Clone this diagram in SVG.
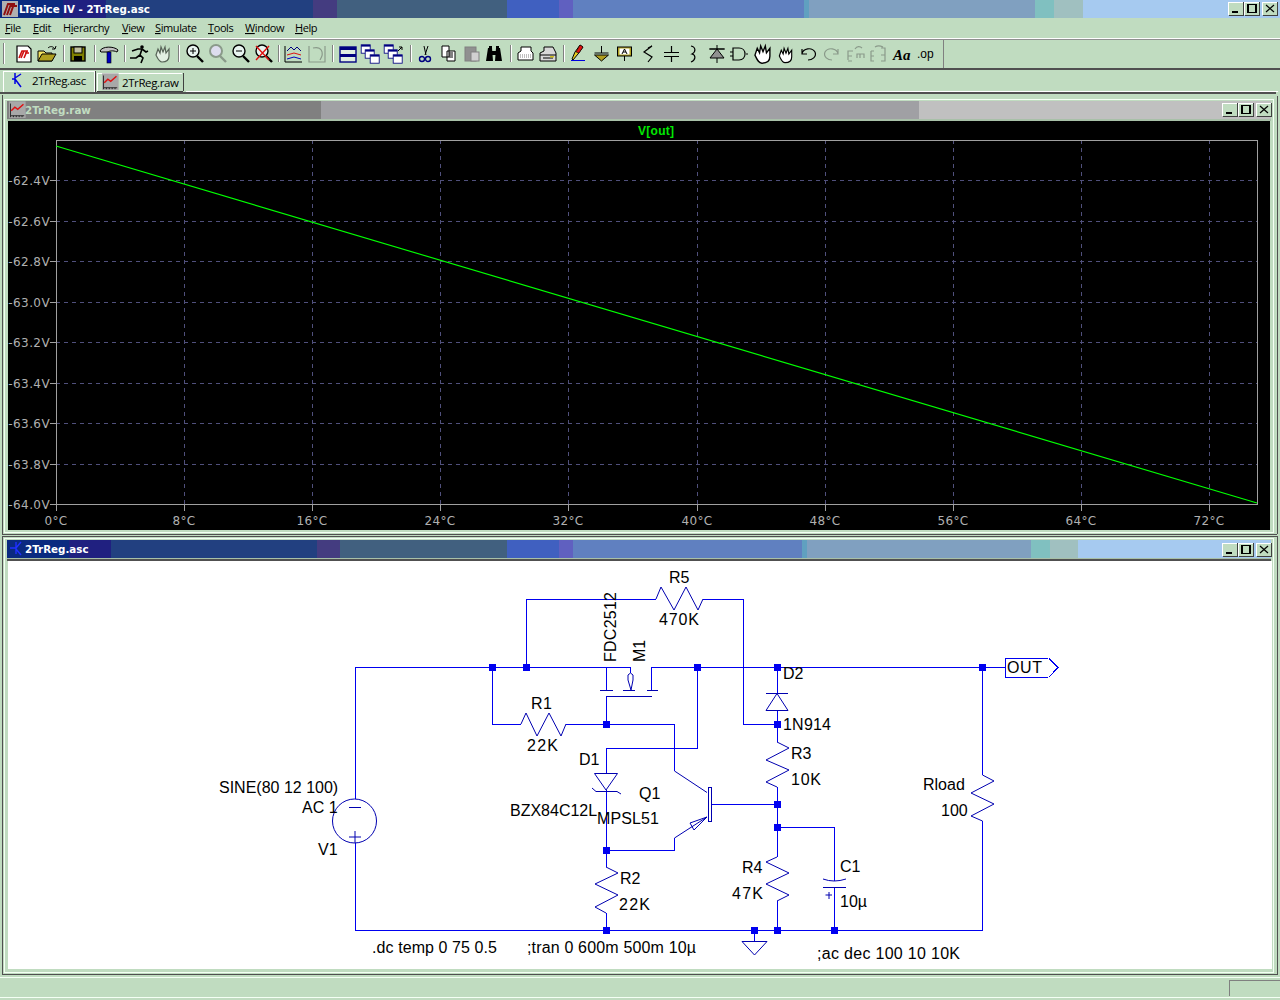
<svg xmlns="http://www.w3.org/2000/svg" width="1280" height="1000" viewBox="0 0 1280 1000">
<style>
.c{shape-rendering:crispEdges}
.w{fill:none;stroke:#0000f0;stroke-width:1.2;shape-rendering:crispEdges}
.s{fill:none;stroke:#0000b0;stroke-width:1}
.j{fill:#0000f0;shape-rendering:crispEdges}
.t{font-family:"Liberation Sans",Arial,sans-serif;font-size:16px;fill:#000}
.m{font-family:"Open Sans","Noto Sans",sans-serif;font-size:11px;fill:#000;letter-spacing:-.4px}
.ttl{font-family:"DejaVu Sans",sans-serif;font-size:10.3px;font-weight:bold}
.a{font-family:"DejaVu Sans",sans-serif;font-size:12px;fill:#b0b0b0;letter-spacing:.4px}
.g{stroke:#50507c;stroke-width:1;stroke-dasharray:4 4;shape-rendering:crispEdges}
.i{fill:none;stroke:#000;stroke-width:1.2}
.d{fill:none;stroke:#8a9a8a;stroke-width:1.2}
.sep{stroke:#808080;stroke-width:1;shape-rendering:crispEdges}
.seph{stroke:#fff;stroke-width:1;shape-rendering:crispEdges}
.u{text-decoration:underline}
.b{fill:none;stroke:#000;stroke-width:1.5;shape-rendering:crispEdges}
</style>
<defs>
<g id="btn" class="c"><rect width="15" height="13" fill="#c0dcc0"/><path d="M0 13V0H15" fill="none" stroke="#fff"/><path d="M.5 13.5H15.5V0" fill="none" stroke="#404040"/></g>
<g id="ctl">
<use href="#btn"/><rect x="4" y="9" width="6" height="2" fill="#000" class="c"/>
<use href="#btn" x="16"/><rect x="20" y="2.5" width="8" height="8" class="b"/>
<use href="#btn" x="34"/><path d="M38 3L46 10M46 3L38 10" class="i" stroke-width="1.6"/>
</g>
<g id="wave"><rect x="-11" y="-12" width="23" height="23" fill="#a8a8a8"/><path d="M-9-9V8H10M-9 8v2M-5 8v2M-1 8v2M3 8v2M7 8v2" fill="none" stroke="#000"/><path d="M-8 1L-3-4L1-1L9-8" fill="none" stroke="#e01010" stroke-width="2"/></g>
<g id="lens"><circle cx="-2" cy="-3" r="6" fill="#e8f4f0" stroke="#000" stroke-width="1.4"/><path d="M2 2L8 8" stroke="#000" stroke-width="2.4"/></g>
<g id="lensd"><circle cx="-2" cy="-3" r="6" fill="#dde" stroke="#8a9a8a" stroke-width="2"/><path d="M2 2L8 8" stroke="#8a9a8a" stroke-width="2.4"/></g>
<g id="tb"><rect x="-8" y="-7" width="15" height="14" fill="#fff" stroke="#000080" stroke-width="1.4"/><rect x="-8" y="-7" width="15" height="3" fill="#000080"/></g>
<g id="hand"><path d="M-7 1L-5-5L-3-1L-2-7L0-2L2-7L3-1L6-5L6 2C6 6 3 8-1 8C-4 8-5 5-7 1Z" fill="#fff" stroke="#000" stroke-width="1.2"/></g>
</defs>

<rect width="1280" height="1000" fill="#c0dcc0"/>

<g id="main-titlebar" class="c">
<rect width="63" height="18" fill="#0a2a80"/><rect x="63" width="43" height="18" fill="#202080"/><rect x="106" width="207" height="18" fill="#224080"/><rect x="313" width="24" height="18" fill="#443c80"/><rect x="337" width="170" height="18" fill="#41607f"/><rect x="507" width="52" height="18" fill="#4060c0"/><rect x="559" width="14" height="18" fill="#6060c0"/><rect x="573" width="231" height="18" fill="#6080c0"/><rect x="804" width="5" height="18" fill="#60a0c0"/><rect x="809" width="226" height="18" fill="#80a0c0"/><rect x="1035" width="19" height="18" fill="#80c0c0"/><rect x="1054" width="29" height="18" fill="#a0c0c0"/><rect x="1083" width="197" height="18" fill="#a6caf0"/>
<rect x="2" y="1" width="16" height="16" fill="#b0b0b0"/>
</g>
<path d="M4 15L8 4H15M11 4L7 15M11 6L17 6M14 4L10 15" fill="none" stroke="#901010" stroke-width="2"/>
<text x="19" y="13" class="ttl" fill="#fff">LTspice IV - 2TrReg.asc</text>
<use href="#ctl" x="1228" y="2"/>

<g id="menu">
<text x="5" y="32" class="m"><tspan class="u">F</tspan>ile</text>
<text x="33" y="32" class="m"><tspan class="u">E</tspan>dit</text>
<text x="63" y="32" class="m">H<tspan class="u">i</tspan>erarchy</text>
<text x="122" y="32" class="m"><tspan class="u">V</tspan>iew</text>
<text x="155" y="32" class="m"><tspan class="u">S</tspan>imulate</text>
<text x="208" y="32" class="m"><tspan class="u">T</tspan>ools</text>
<text x="245" y="32" class="m"><tspan class="u">W</tspan>indow</text>
<text x="295" y="32" class="m"><tspan class="u">H</tspan>elp</text>
</g>

<g id="toolbar">
<rect x="0" y="38" width="1280" height="1" fill="#fff" class="c"/><rect x="0" y="39" width="1280" height="1" fill="#909090" class="c"/>
<rect x="0" y="68" width="1280" height="2" fill="#505050" class="c"/>
<path class="sep" d="M3.5 43V64M63.5 45V62M94.5 45V62M124.5 45V62M178.5 45V62M278.5 45V62M332.5 45V62M410.5 45V62M510.5 45V62M563.5 45V62M943.5 40V68"/>
<path class="seph" d="M4.5 43V64M64.5 45V62M95.5 45V62M125.5 45V62M179.5 45V62M279.5 45V62M333.5 45V62M411.5 45V62M511.5 45V62M564.5 45V62"/>
<g transform="translate(24 54)"><path d="M-7-8H4L7-5V8H-7Z" fill="#fff" stroke="#000" stroke-width="1.2"/><path d="M-5 4L-2-3H4M0-3L-3 4M1-1H5M3-3L0 4" fill="none" stroke="#d01010" stroke-width="1.6"/></g>
<g transform="translate(47 54)"><path d="M-9 7V-3H-3L-1-1H5V7Z" fill="#f0e060" stroke="#000"/><path d="M-9 7L-5 0H9L5 7Z" fill="#b0a020" stroke="#000"/><path d="M1-6C3-8 6-8 8-5M8-5l1-3M8-5l-3 0" fill="none" stroke="#000"/></g>
<g transform="translate(78 54)"><rect x="-7" y="-7" width="14" height="14" fill="#808000" stroke="#000" stroke-width="1.4"/><rect x="-4" y="-7" width="8" height="6" fill="#c0c0a0" stroke="#000"/><rect x="-4" y="2" width="8" height="5" fill="#000"/></g>
<g transform="translate(109 54)"><path d="M-9-3C-7-8 5-8 9-4L8-2C4-4 0-3-1-2H-8Z" fill="#c0c0c0" stroke="#000"/><rect x="-2" y="-2" width="4" height="11" fill="#0000c0" stroke="#000" stroke-width=".6"/></g>
<g transform="translate(139 54)"><circle cx="3" cy="-7" r="1.8" fill="#000"/><path d="M-7-3L-1-5H3L1 1L4 4L2 9M1 1L-3 4L-9 4M3-5L7-2L9-3" fill="none" stroke="#000" stroke-width="1.6"/></g>
<use href="#hand" x="163" y="54" opacity=".55"/>
<use href="#lens" x="195" y="54"/><path d="M190 51H196M193 48V54" stroke="#000" fill="none"/>
<use href="#lensd" x="218" y="54"/>
<use href="#lens" x="241" y="54"/><path d="M236 51H242" stroke="#000" fill="none"/>
<use href="#lens" x="264" y="54"/><path d="M256 46L269 60M269 46L256 60" stroke="#e01010" stroke-width="1.4" fill="none"/>
<g transform="translate(294 54)"><path d="M-9-8V8H8" fill="none" stroke="#000"/><path d="M-7-3L-3-7L0-4L3-7L7-3" fill="none" stroke="#000080"/><path d="M-7 1L0-1L7 1" fill="none" stroke="#e01010"/><path d="M-7 5L0 3L7 5" fill="none" stroke="#0000c0"/></g>
<g transform="translate(317 54)"><path d="M-8-8V8H8V-8M-4-6C4-8 8-2 3 6" class="d"/></g>
<g transform="translate(348 54)"><rect x="-8" y="-7" width="16" height="15" fill="#e0eee0" stroke="#000080" stroke-width="1.4"/><rect x="-8" y="-7" width="16" height="3" fill="#000080"/><rect x="-8" y="0" width="16" height="3" fill="#000080"/></g>
<use href="#tb" transform="translate(366 49) scale(.6)"/><use href="#tb" transform="translate(370 54) scale(.6)"/><use href="#tb" transform="translate(375 59) scale(.6)"/>
<use href="#tb" transform="translate(389 49) scale(.6)"/><use href="#tb" transform="translate(393 54) scale(.6)"/><use href="#tb" transform="translate(398 59) scale(.6)"/><path d="M398 51L402 47M399 47H402V50" stroke="#000" fill="none"/>
<g transform="translate(425 54)"><path d="M-1-8L1 1M3-8L0 1" stroke="#000" fill="none"/><circle cx="-3" cy="5" r="2.5" fill="none" stroke="#000080" stroke-width="1.4"/><circle cx="3" cy="5" r="2.5" fill="none" stroke="#000080" stroke-width="1.4"/></g>
<g transform="translate(449 54)"><path d="M-7-8H0V3H-7Z M-2-3H6V7H-2Z" fill="#fff" stroke="#000"/><path d="M0-1H4M0 1H4M0 3H4" stroke="#000"/></g>
<g transform="translate(472 54)"><rect x="-7" y="-7" width="11" height="14" fill="#909090" stroke="#808080"/><rect x="-1" y="-2" width="8" height="9" fill="#d0d0d0" stroke="#808080"/></g>
<g transform="translate(494 54)"><path d="M-8 7L-6-6H-2L-1 7ZM1 7L2-6H6L8 7Z" fill="#000"/><rect x="-2" y="-3" width="4" height="4" fill="#000"/><rect x="-5" y="-8" width="3" height="3" fill="#000"/><rect x="2" y="-8" width="3" height="3" fill="#000"/></g>
<g transform="translate(526 54)"><path d="M-8 6V-1L-5-3V-7H5V-3L7-1V6Z" fill="#fff" stroke="#000"/><path d="M-6 1H5M-6 3H5" stroke="#808080" stroke-dasharray="1 1"/></g>
<g transform="translate(548 54)"><path d="M-8 7V-1L-4-3V-7H5L8-1V7Z" fill="#d8d8d8" stroke="#000"/><path d="M-8 1H8M-5 4H5" stroke="#000"/><rect x="2" y="2" width="4" height="1.5" fill="#d0c020"/></g>
<g transform="translate(578 54)"><path d="M-6 5L-3-2L2-9L5-7L0 0L-5 6Z" fill="#e8d020" stroke="#000"/><path d="M-2-2L2-9L5-7L1-1Z" fill="#e01010" stroke="#000" stroke-width=".6"/><path d="M-7 6.500H7" stroke="#0000e0"/></g>
<g transform="translate(601.500 54)"><path d="M0-8V-1M-7-1H7" stroke="#000" fill="none"/><path d="M-7 1H7L0 7Z" fill="#b0a020" stroke="#000"/></g>
<g transform="translate(624.500 54)"><rect x="-7" y="-7" width="14" height="9" fill="#b0a020" stroke="#000"/><rect x="-5" y="-5.500" width="10" height="6" fill="#fff"/><path d="M0 2V7" stroke="#000"/><path d="M-2.500 0L0-5L2.500 0M-1.500-2H1.500" fill="none" stroke="#000"/></g>
<path class="i" d="M652 46L644 52L652 57L648 62M652 46L648 48"/>
<path class="i" d="M671.500 46V52M664 52.500H679M664 56.500H679M671.500 57V62"/>
<path class="i" d="M691 46C696 47 696 52 692 54C696 55 696 60 691 62"/>
<g transform="translate(717 54)"><path d="M0-9V-5M-8-5H8M-7 4L0-5L7 4Z" fill="#909090" stroke="#000"/><path d="M0 4V9M-7-5H7" stroke="#000"/></g>
<g transform="translate(739 54)"><path d="M-6-6H0C8-6 8 6 0 6H-6ZM-9-2H-6M-9 2H-6M7 0H9" class="i" fill="#c0dcc0"/></g>
<use href="#hand" transform="translate(763 54) scale(1.15)"/>
<use href="#hand" transform="translate(786 55) scale(.95)"/>
<path d="M802 54C803 48 812 47 815 52C817 57 812 60 808 60M802 49V54H807" fill="none" stroke="#000" stroke-width="1.2"/>
<path d="M838 54C837 48 828 47 825 52C823 57 828 60 832 60M838 49V54H833" class="d"/>
<path d="M848 60V51H853M848 56H852M848 61H852M855 49C857 46 860 46 862 48M857 58V54H864V58M860 54V58" class="d"/>
<path d="M871 51H874M871 51V61H874M871 56H874M881 48H885V61H881M881 55H885M875 47C878 45 881 46 883 47" class="d"/>
<text x="893" y="60" style="font-family:'Liberation Serif',serif;font-size:15px;font-style:italic;font-weight:bold" fill="#000">Aa</text>
<text x="917" y="58" style="font-family:'Liberation Sans',sans-serif;font-size:12px" fill="#000">.op</text>
</g>

<g id="tabs">
<rect y="92" x="0" width="1276" height="2" fill="#505050" class="c"/><rect y="91" x="186" width="1092" height="1" fill="#fff" class="c"/>
<path class="c" d="M3 92V71H94V92" fill="#c0dcc0" stroke="#fff"/><path class="c" d="M95 71V92" fill="none" stroke="#404040"/>
<path class="c" d="M97 91V73H182" fill="none" stroke="#fff"/><path class="c" d="M183.500 73V91" fill="none" stroke="#404040"/><path class="c" d="M97 91.500H183" stroke="#404040"/>
<path d="M15 73L15 84M15 78L21 74M15 79L21 87M12 79H15" fill="none" stroke="#0000e0" stroke-width="1.5"/>
<text x="32" y="85" class="m" style="font-size:11.500px">2TrReg.asc</text>
<use href="#wave" transform="translate(110 82) scale(.72)"/>
<text x="122" y="87" class="m" style="font-size:11.500px">2TrReg.raw</text>
</g>

<g id="raw-window">
<path class="c" d="M2.500 95V534.500H1277M1277.500 96V534" fill="none" stroke="#505050"/>
<path class="c" d="M4.500 99H1273V532.500H4.500Z" fill="none" stroke="#f4fff4"/>
<g class="c"><rect x="7" y="101" width="314" height="18" fill="#808080"/><rect x="321" y="101" width="598" height="18" fill="#a0a0a4"/><rect x="919" y="101" width="352" height="18" fill="#c0c0c0"/></g>
<use href="#wave" transform="translate(17 110) scale(.72)"/>
<text x="25" y="114" class="ttl" fill="#c0dcc0">2TrReg.raw</text>
<use href="#ctl" x="1222" y="103"/>
<rect x="7" y="119" width="1264" height="2" fill="#a8c0a8" class="c"/>
<rect x="8" y="121" width="1262" height="409" fill="#000" class="c"/>
</g>

<g id="plot">
<text x="638" y="135" textLength="36" style="font-family:'Liberation Sans',sans-serif;font-size:12px;font-weight:bold" fill="#00e800">V[out]</text>
<path class="g" d="M184.500 140V504M312.500 140V504M440.500 140V504M568.500 140V504M697.500 140V504M825.500 140V504M953.500 140V504M1081.500 140V504M1209.500 140V504M56 180.500H1257M56 221.500H1257M56 261.500H1257M56 302.500H1257M56 342.500H1257M56 383.500H1257M56 423.500H1257M56 464.500H1257"/>
<rect x="56.500" y="140.500" width="1201" height="364" fill="none" stroke="#a0a0a0" class="c"/>
<path class="c" d="M50 180.500H56M50 221.500H56M50 261.500H56M50 302.500H56M50 342.500H56M50 383.500H56M50 423.500H56M50 464.500H56M50 504.500H56M56.500 504V511M184.500 504V511M312.500 504V511M440.500 504V511M568.500 504V511M697.500 504V511M825.500 504V511M953.500 504V511M1081.500 504V511M1209.500 504V511" stroke="#a0a0a0"/>
<path d="M56 146L1257 503" stroke="#00ff00" stroke-width="1.15" fill="none"/>
<g class="a" text-anchor="end">
<text x="50" y="185">-62.4V</text><text x="50" y="226">-62.6V</text><text x="50" y="266">-62.8V</text><text x="50" y="307">-63.0V</text><text x="50" y="347">-63.2V</text><text x="50" y="388">-63.4V</text><text x="50" y="428">-63.6V</text><text x="50" y="469">-63.8V</text><text x="50" y="509">-64.0V</text>
</g>
<g class="a" text-anchor="middle">
<text x="56" y="525">0°C</text><text x="184" y="525">8°C</text><text x="312" y="525">16°C</text><text x="440" y="525">24°C</text><text x="568" y="525">32°C</text><text x="697" y="525">40°C</text><text x="825" y="525">48°C</text><text x="953" y="525">56°C</text><text x="1081" y="525">64°C</text><text x="1209" y="525">72°C</text>
</g>
</g>

<g id="sch-window">
<path class="c" d="M2.500 536V974.500H1277.500V536H2.500" fill="none" stroke="#505050"/>
<path class="c" d="M4.500 538.500H1273V972H4.500Z" fill="none" stroke="#f4fff4"/>
<g class="c"><rect x="7" y="540" width="62" height="18" fill="#0a2a80"/><rect x="69" y="540" width="42" height="18" fill="#202080"/><rect x="111" y="540" width="206" height="18" fill="#224080"/><rect x="317" y="540" width="23" height="18" fill="#443c80"/><rect x="340" y="540" width="167" height="18" fill="#41607f"/><rect x="507" y="540" width="52" height="18" fill="#4060c0"/><rect x="559" y="540" width="14" height="18" fill="#6060c0"/><rect x="573" y="540" width="229" height="18" fill="#6080c0"/><rect x="802" y="540" width="5" height="18" fill="#60a0c0"/><rect x="807" y="540" width="224" height="18" fill="#80a0c0"/><rect x="1031" y="540" width="19" height="18" fill="#80c0c0"/><rect x="1050" y="540" width="28" height="18" fill="#a0c0c0"/><rect x="1078" y="540" width="193" height="18" fill="#a6caf0"/></g>
<path d="M16 542V554M16 548L21 542M16 549L21 555M10 548H16" fill="none" stroke="#2030ff" stroke-width="1.4"/>
<text x="25" y="553" class="ttl" fill="#fff">2TrReg.asc</text>
<use href="#ctl" x="1222" y="543"/>
<rect x="7" y="558" width="1264" height="1" fill="#a8c0a8" class="c"/>
<rect x="7" y="559" width="1264" height="2" fill="#505050" class="c"/>
<rect x="8" y="561" width="1264" height="408" fill="#fff" class="c"/>
</g>

<g id="status-bar">
<rect x="0" y="977" width="1280" height="1" fill="#f4fff4" class="c"/>
<path class="c" d="M1229.500 996V980.500H1280" fill="none" stroke="#808080"/>
<path class="c" d="M0 997.500H1280" stroke="#f4fff4"/>
</g>

<g id="connectors">
<path class="w" d="M355.500 799V667.500H630.500V673M651.500 690V667.500H1005M355.500 843V930.500H982.500V821M982.500 775V667.500"/>
<path class="w" d="M492.500 667.500V724.500H521M566 724.500H674.500V771M606.500 696V724.500"/>
<path class="w" d="M606.500 690V667.500M526.500 667.500V599.500H656M703 599.500H743.500V724.500H777.500"/>
<path class="w" d="M697.500 667.500V748.500H606.500V773M606.500 790V867M606.500 913V930.500M606.500 850.500H674.500V838M712 804.500H777.500"/>
<path class="w" d="M777.500 667.500V693M777.500 710V742M777.500 787V857M777.500 901V930.500M777.500 827.500H834.500V881M834.500 887V930.500M754.500 930.500V941"/>
</g>

<g id="R1"><polyline class="s" points="521,724 526,713 537,736 549,713 561,736 566,724"/><text class="t" x="531" y="709" textLength="21">R1</text><text class="t" x="527" y="751" textLength="31">22K</text></g>
<g id="R2"><polyline class="s" points="606,867 618,873 595,884 618,895 595,907 606,913"/><text class="t" x="620" y="884">R2</text><text class="t" x="619" y="910" textLength="31">22K</text></g>
<g id="R3"><polyline class="s" points="777,742 789,748 766,760 789,770 766,782 777,787"/><text class="t" x="791" y="759">R3</text><text class="t" x="791" y="785" textLength="30">10K</text></g>
<g id="R4"><polyline class="s" points="777,857 766,862 789,873 766,884 789,895 777,901"/><text class="t" x="742" y="873">R4</text><text class="t" x="732" y="899" textLength="31">47K</text></g>
<g id="R5"><polyline class="s" points="656,599 661,587 674,610 686,587 698,610 703,599"/><text class="t" x="669" y="583">R5</text><text class="t" x="659" y="625" textLength="40">470K</text></g>
<g id="Rload"><polyline class="s" points="982.500,775 994,781 971,793 994,804 971,816 982.500,821"/><text class="t" x="923" y="790">Rload</text><text class="t" x="941" y="816">100</text></g>
<g id="V1"><circle class="s" cx="354.500" cy="821" r="22"/><path class="s" d="M349 807.500H361M349 837H361M355 831V843"/><text class="t" x="219" y="793">SINE(80 12 100)</text><text class="t" x="302" y="813">AC 1</text><text class="t" x="318" y="855">V1</text></g>
<g id="M1"><path class="s" d="M600 690.500H613M623 690.500H635M647 690.500H658M606.500 696.500H652M630.500 673L633 675V680L631 690L628 680V675Z"/><text class="t" transform="translate(616 662) rotate(-90)" textLength="70">FDC2512</text><text class="t" transform="translate(645 662) rotate(-90)">M1</text></g>
<g id="D1"><path class="s" d="M594.500 773.500H617.500L606 790ZM592 788L596 791.500H617L621 794"/><text class="t" x="579" y="765">D1</text><text class="t" x="510" y="816">BZX84C12L</text></g>
<g id="D2"><path class="s" d="M766 693.500H788M777 693.500L766 710.500H788Z"/><text class="t" x="783" y="679">D2</text><text class="t" x="783" y="730" textLength="48">1N914</text></g>
<g id="Q1"><rect class="s" x="708.500" y="787.500" width="3" height="34"/><path class="s" d="M674.500 771L707 792.500M707 817L674.500 838M707 817L690 823L694 830Z"/><text class="t" x="639" y="799">Q1</text><text class="t" x="597" y="824" textLength="62">MPSL51</text></g>
<g id="C1"><path class="s" d="M823 879Q834 883 846 879M823 887.500H846M825.500 895H832M829 892V899"/><text class="t" x="840" y="872">C1</text><text class="t" x="840" y="907">10µ</text></g>
<g id="GND"><path class="s" d="M742 941.500H767L754.500 955Z"/></g>
<g id="OUT"><path d="M1048 677.500H1005.500V658.500H1047.500M1049 658.500L1058 667.500L1049 677" fill="none" stroke="#0000f0" class="c"/><text class="t" x="1007" y="673" textLength="35">OUT</text></g>

<g id="junctions">
<rect class="j" x="489" y="664" width="7" height="7"/><rect class="j" x="523" y="664" width="7" height="7"/><rect class="j" x="694" y="664" width="7" height="7"/><rect class="j" x="774" y="664" width="7" height="7"/><rect class="j" x="979" y="664" width="7" height="7"/>
<rect class="j" x="603" y="721" width="7" height="7"/><rect class="j" x="774" y="721" width="7" height="7"/><rect class="j" x="774" y="801" width="7" height="7"/><rect class="j" x="774" y="824" width="7" height="7"/><rect class="j" x="603" y="847" width="7" height="7"/>
<rect class="j" x="603" y="927" width="7" height="7"/><rect class="j" x="751" y="927" width="7" height="7"/><rect class="j" x="774" y="927" width="7" height="7"/><rect class="j" x="831" y="927" width="7" height="7"/>
</g>

<g id="directives">
<text class="t" x="372" y="953" textLength="125">.dc temp 0 75 0.5</text>
<text class="t" x="527" y="953" textLength="169">;tran 0 600m 500m 10µ</text>
<text class="t" x="817" y="959" textLength="143">;ac dec 100 10 10K</text>
</g>
</svg>
